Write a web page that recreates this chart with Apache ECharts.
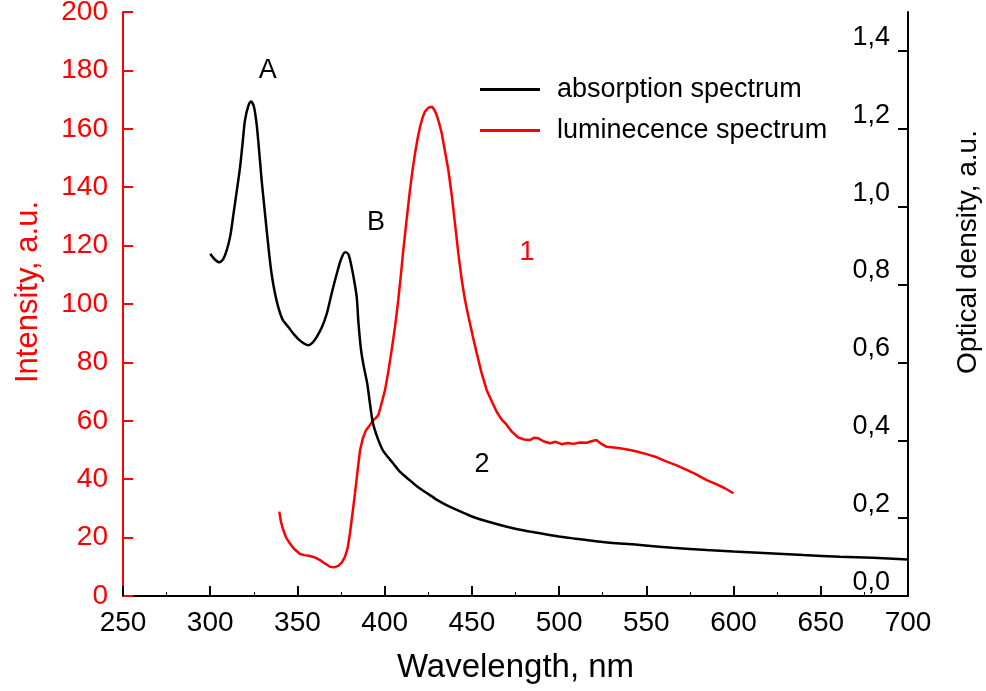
<!DOCTYPE html>
<html>
<head>
<meta charset="utf-8">
<title>Absorption and luminescence spectra</title>
<script src="https://cdn.jsdelivr.net/npm/echarts@6.0.0/dist/echarts.min.js"></script>
<style>
  html, body { margin: 0; padding: 0; background: #fff; }
  #chart { width: 986px; height: 691px; }
</style>
</head>
<body>
<div id="chart"></div>
<script>
// --- Data ---
var absorptionNm = [300, 302.5, 305.2, 307.5, 309.4, 311.5, 313.2, 315.2, 317.1, 318.6, 319.9, 321.8, 323.4, 325, 326.6, 328, 329.5, 331, 332.4, 333.8, 335.2, 337, 339, 341.5, 344.8, 348, 351.5, 354, 356.2, 358.5, 361, 364, 366.8, 369.5, 372.5, 375, 377.3, 379.2, 381.1, 382.6, 384, 385, 386.5, 388, 390, 391.7, 393.3, 396, 399, 404.8, 409, 414.5, 419, 424.3, 430, 435.7, 443, 450.8, 460, 470, 480, 489, 500, 508, 525, 546.4, 565, 584.6, 600, 622.8, 640, 661, 680, 700];
var absorptionOD = [0.879, 0.865, 0.857, 0.866, 0.887, 0.925, 0.977, 1.04, 1.101, 1.165, 1.221, 1.258, 1.270, 1.258, 1.212, 1.145, 1.067, 1.0, 0.938, 0.878, 0.827, 0.78, 0.742, 0.71, 0.691, 0.672, 0.656, 0.648, 0.644, 0.650, 0.665, 0.69, 0.725, 0.775, 0.827, 0.865, 0.883, 0.878, 0.844, 0.808, 0.767, 0.70, 0.63, 0.59, 0.546, 0.49, 0.444, 0.405, 0.374, 0.341, 0.318, 0.297, 0.28, 0.264, 0.247, 0.233, 0.218, 0.203, 0.19, 0.178, 0.168, 0.161, 0.153, 0.148, 0.139, 0.131, 0.124, 0.118, 0.114, 0.109, 0.105, 0.101, 0.098, 0.094];

var luminescenceNm = [339.6, 340.5, 341.9, 343.5, 345.7, 348, 351.5, 354, 357.2, 360, 362.9, 365.5, 368.7, 371, 373.4, 375.5, 377.3, 378.8, 380.1, 381.5, 383, 384.5, 385.9, 387.5, 389.3, 391.5, 393.5, 395, 396.4, 398, 400.2, 402, 404, 406, 407.8, 409.3, 410.7, 412.5, 414.5, 416, 417.4, 419, 420.3, 421.7, 423.1, 425, 427, 428.5, 429.8, 431.2, 432.7, 434.5, 436.5, 438.5, 440.3, 442.2, 444.2, 446, 448, 450.5, 452.8, 455.5, 458.5, 461.5, 464.2, 467, 470, 473, 476.6, 480, 483.3, 485.5, 488.1, 491, 494.8, 498, 501.5, 505, 508.1, 512, 515.8, 518.5, 521.2, 524, 527.3, 534, 540.6, 545, 550.2, 556, 561.7, 567, 573.1, 578, 584.6, 590, 595, 599.9];
var luminescenceI = [28.9, 25.5, 22.6, 20, 18.0, 16.2, 14.4, 14.0, 13.7, 13.2, 12.3, 11.2, 10.0, 9.8, 10.3, 11.5, 13.5, 16.5, 21.5, 28, 35.2, 43, 50.0, 54, 56.8, 58.5, 60.3, 61, 62.0, 65.5, 70.5, 76.5, 84.2, 92.5, 101.4, 110, 118.5, 128.5, 139.0, 146, 151.6, 157, 160.7, 163.8, 165.9, 167.2, 167.6, 166.5, 164.7, 162, 158.5, 152.5, 145.9, 137, 127.6, 117.5, 108.2, 101.5, 95.7, 89, 83.1, 76.5, 70.5, 66.5, 63.1, 60.5, 58.6, 56.2, 54.3, 53.6, 53.4, 54.2, 54.0, 53.0, 52.3, 52.8, 52.0, 52.4, 52.1, 52.6, 52.5, 53.0, 53.4, 52.2, 51.1, 50.7, 50.0, 49.4, 48.6, 47.5, 46.0, 44.8, 43.2, 41.8, 39.7, 38.3, 36.9, 35.2];

// right axis ticks (no tick at the 1.5 top)
var odTicks = [0, 0.2, 0.4, 0.6, 0.8, 1.0, 1.2, 1.4];

// labels inside the plot: [nm, intensity, text, colour]
var annotations = [
  [333, 180, 'A', '#000'],
  [395, 128, 'B', '#000'],
  [481.6, 117.5, '1', '#ff0000'],
  [455.8, 45, '2', '#000']
];

(function () {
  'use strict';

  var FONT = '"Liberation Sans", Arial, sans-serif';
  var RED = '#ff0000';

  function zip(xs, ys) {
    return xs.map(function (x, i) { return [x, ys[i]]; });
  }

  var chart = echarts.init(document.getElementById('chart'), null, { renderer: 'canvas' });

  var option = {
    animation: false,
    textStyle: { fontFamily: FONT },
    grid: { left: 123, right: 78, top: 12, bottom: 95, outerBoundsMode: 'none', containLabel: false },
    legend: {
      data: ['absorption spectrum', 'luminecence spectrum'],
      orient: 'vertical',
      left: 475,
      top: 71,
      icon: 'rect',
      itemWidth: 60,
      itemHeight: 3,
      itemGap: 14,
      textStyle: { fontSize: 27, color: '#000', fontFamily: FONT, padding: [0, 0, 0, 12] }
    },
    xAxis: {
      type: 'value',
      min: 250,
      max: 700,
      interval: 50,
      name: 'Wavelength, nm',
      nameLocation: 'middle',
      nameGap: 55,
      nameTextStyle: { fontSize: 33, color: '#000', fontFamily: FONT },
      axisLine: { lineStyle: { color: '#000', width: 2 } },
      axisTick: { inside: true, length: 10, lineStyle: { color: '#000', width: 2 } },
      minorTick: { show: true, splitNumber: 2, length: 4, lineStyle: { color: '#000', width: 1 } },
      axisLabel: { fontSize: 28, color: '#000', margin: 13, fontFamily: FONT },
      splitLine: { show: false }
    },
    yAxis: [
      {
        type: 'value',
        position: 'left',
        min: 0,
        max: 200,
        interval: 20,
        name: 'Intensity, a.u.',
        nameLocation: 'middle',
        nameGap: 79,
        nameTextStyle: { fontSize: 31, color: RED, fontFamily: FONT, padding: [0, 0, 0, 24] },
        axisLine: { show: true, lineStyle: { color: RED, width: 2 } },
        axisTick: { inside: true, length: 10, lineStyle: { color: RED, width: 2 } },
        axisLabel: { fontSize: 28, color: RED, margin: 15, fontFamily: FONT },
        splitLine: { show: false }
      },
      {
        type: 'value',
        position: 'right',
        min: 0,
        max: 1.5,
        name: 'Optical density, a.u.',
        nameLocation: 'middle',
        nameGap: 46,
        nameTextStyle: { fontSize: 28, color: '#000', fontFamily: FONT, padding: [0, 0, 0, 104] },
        axisLine: { show: true, lineStyle: { color: '#000', width: 2 } },
        axisTick: { inside: true, length: 10, customValues: odTicks, lineStyle: { color: '#000', width: 2 } },
        axisLabel: {
          inside: true,
          margin: 18,
          fontSize: 27,
          color: '#000',
          fontFamily: FONT,
          verticalAlign: 'bottom',
          customValues: odTicks,
          formatter: function (v) { return v.toFixed(1).replace('.', ','); }
        },
        splitLine: { show: false }
      }
    ],
    series: [
      {
        name: 'absorption spectrum',
        type: 'line',
        yAxisIndex: 1,
        data: zip(absorptionNm, absorptionOD),
        smooth: 0.3,
        showSymbol: false,
        symbol: 'none',
        lineStyle: { color: '#000', width: 2.5 },
        itemStyle: { color: '#000' },
        z: 3
      },
      {
        name: 'luminecence spectrum',
        type: 'line',
        yAxisIndex: 0,
        data: zip(luminescenceNm, luminescenceI),
        showSymbol: false,
        symbol: 'none',
        lineStyle: { color: RED, width: 2.5 },
        itemStyle: { color: RED },
        z: 2
      },
      {
        name: 'labels',
        type: 'scatter',
        yAxisIndex: 0,
        symbolSize: 0,
        silent: true,
        itemStyle: { opacity: 1 },
        data: annotations.map(function (a) {
          return {
            value: [a[0], a[1]],
            label: {
              show: true, position: 'inside', formatter: a[2], color: a[3],
              fontSize: 27, fontFamily: FONT, textBorderWidth: 0
            }
          };
        })
      }
    ]
  };

  chart.setOption(option);
})();
</script>
</body>
</html>
